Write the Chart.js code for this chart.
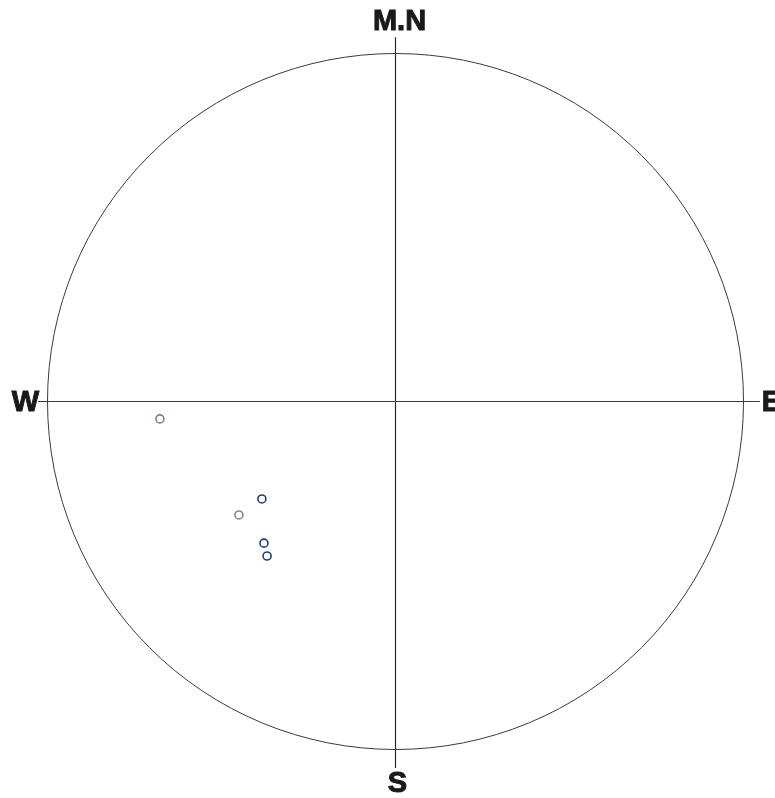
<!DOCTYPE html>
<html>
<head>
<meta charset="utf-8">
<script src="https://cdn.jsdelivr.net/npm/chart.js@4"></script>
<style>
  body { margin: 0; background: #fff; }
  canvas { display: block; }
</style>
</head>
<body>
<canvas id="stereo" width="775" height="798"></canvas>
<script>
// poles, projected coordinates inside the unit circle
var poleX = [-0.677, -0.384, -0.450, -0.378, -0.369];
var poleY = [-0.050, -0.280, -0.326, -0.407, -0.444];
var poleColor = ['#7280a8', '#1f3c82', '#7a84a4', '#1f3c82', '#1f3c82'];

// cross lines, reaching a little past the circle
var crossEW = [-1.027, 1.047];
var crossNS = [1.047, -1.053];

var directions = ['M.N', 'E', 'S', 'W'];

var poles = poleX.map((x, i) => ({ x: x, y: poleY[i] }));

function label(ctx, txt, x, y) {
    ctx.fillText(txt, x, y);
    ctx.strokeText(txt, x, y);
}

var netPlugin = {
    id: 'net',
    beforeDatasetsDraw(chart) {
        var ctx = chart.ctx;
        var sx = chart.scales.x, sy = chart.scales.y;
        var cx = sx.getPixelForValue(0), cy = sy.getPixelForValue(0);
        var r = sx.getPixelForValue(1) - cx;
        ctx.save();
        ctx.strokeStyle = '#3a3a3a';
        ctx.lineWidth = 1;
        ctx.beginPath();
        ctx.arc(cx, cy, r, 0, Math.PI * 2);
        ctx.stroke();

        ctx.fillStyle = '#1a1a1a';
        ctx.strokeStyle = '#1a1a1a';
        ctx.lineWidth = 1;
        ctx.font = 'bold 29px "Liberation Sans", Arial, sans-serif';
        ctx.textAlign = 'center';
        ctx.textBaseline = 'middle';
        label(ctx, directions[0], cx + 4, cy - r - 32);
        label(ctx, directions[2], cx + 2, cy + r + 34);
        ctx.textAlign = 'left';
        label(ctx, directions[1], sx.getPixelForValue(crossEW[1]) + 2, cy + 1);
        ctx.textAlign = 'right';
        label(ctx, directions[3], sx.getPixelForValue(crossEW[0]) + 1, cy + 1);
        ctx.restore();
    }
};

var ct = document.getElementById('stereo');

var grafico = new Chart(ct, {
    type: 'scatter',
    data: {
        datasets: [{
            label: 'E-W',
            data: crossEW.map(x => ({ x: x, y: 0 })),
            showLine: true,
            borderColor: '#3a3a3a',
            borderWidth: 1,
            pointRadius: 0,
            clip: false
        },
        {
            label: 'N-S',
            data: crossNS.map(y => ({ x: 0, y: y })),
            showLine: true,
            borderColor: '#2a2a2a',
            borderWidth: 1.2,
            pointRadius: 0,
            clip: false
        },
        {
            label: 'Poles',
            data: poles,
            pointRadius: 4,
            pointBorderWidth: 1.6,
            pointBorderColor: poleColor,
            pointBackgroundColor: '#fff',
            clip: false
        }]
    },
    options: {
        responsive: false,
        animation: false,
        layout: {
            padding: { left: 47.5, right: 31.5, top: 53.5, bottom: 48.5 }
        },
        scales: {
            x: { type: 'linear', min: -1, max: 1, display: false },
            y: { type: 'linear', min: -1, max: 1, display: false }
        },
        plugins: {
            legend: { display: false },
            tooltip: { enabled: false }
        }
    },
    plugins: [netPlugin]
});
</script>
</body>
</html>
